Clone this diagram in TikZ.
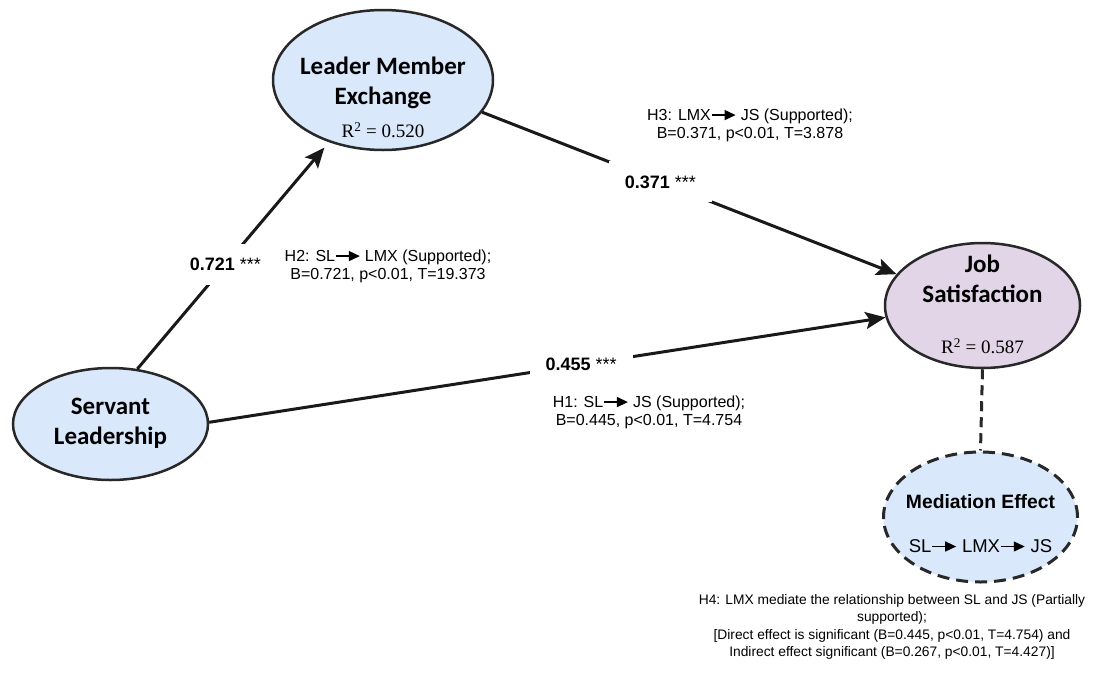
\documentclass[tikz,border=0pt]{standalone}
\usepackage{fontspec}
\setmainfont{Liberation Sans}
\newfontfamily\titlefont{Carlito}
\newfontfamily\rfont{Liberation Serif}
\usetikzlibrary{positioning, shapes.geometric, arrows.meta}
\definecolor{LatentBlue}{RGB}{218, 232, 252}
\definecolor{LatentLilac}{RGB}{225, 213, 231}
\definecolor{EdgeGray}{RGB}{40, 40, 40}
\newcommand{\hyparr}{\tikz[baseline=-0.6ex]\draw[line width=1.4pt, -{Triangle[length=11pt, width=10pt]}] (0pt,0pt) -- (24pt,0pt);}

\begin{document}
\begin{tikzpicture}[x=1pt, y=-1pt,
    latent/.style={ellipse, draw=EdgeGray, line width=2.5pt, fill=LatentBlue, inner sep=0pt},
    title/.style={font=\titlefont\bfseries\fontsize{25}{30}\selectfont, align=center},
    rsq/.style={font=\rfont\fontsize{19}{22}\selectfont},
    effect/.style={line width=3pt, draw=black!90, -{Stealth[length=20pt, width=17pt, inset=4pt]}},
    coef/.style={fill=white, inner xsep=16pt, inner ysep=14pt, font=\bfseries\fontsize{18}{20}\selectfont},
    hyp/.style={align=center, font=\fontsize{16}{18}\selectfont}
  ]
  \useasboundingbox (0,0) rectangle (1094,675);

  % latent variables
  \node[latent, minimum width=195pt, minimum height=112pt] (sl) at (110.5,424) {};
  \node[latent, minimum width=220pt, minimum height=140pt] (lmx) at (383,80) {};
  \node[latent, fill=LatentLilac, minimum width=195pt, minimum height=125pt] (js) at (982.5,305.5) {};
  \node[latent, dash pattern=on 12pt off 7pt, line width=3pt, minimum width=194pt, minimum height=130pt] (med) at (980.5,517) {};

  \node[title] (sltxt) at (110.5,423) {Servant\\Leadership};
  \node[title] (lmxtxt) at (383,83) {Leader Member\\Exchange};
  \node[rsq] (lmxr) at (383,130) {R\textsuperscript{2} = 0.520};
  \node[title] (jstxt) at (982.5,279) {Job\\Satisfaction};
  \node[rsq] (jsr) at (982.5,346) {R\textsuperscript{2} = 0.587};
  \node[font=\bfseries\fontsize{19.3}{22}\selectfont] (medtxt) at (980.5,502) {Mediation Effect};
  \node[font=\fontsize{18.5}{22}\selectfont] (medpath) at (980.5,546) {SL\hyparr\ LMX\hyparr\ JS};

  % paths
  \draw[effect, shorten >=7pt] (sl.64) -- node[coef, pos=0.46] (c721) {0.721 {\mdseries ***}} (lmx.229);
  \draw[effect] (lmx.-18) -- node[coef, pos=0.43] (c371) {0.371 {\mdseries ***}} (js.160);
  \draw[effect] (sl.1) -- node[coef, pos=0.55] (c455) {0.455 {\mdseries ***}} (js.187);
  \draw[line width=3pt, draw=EdgeGray, dash pattern=on 10pt off 6pt] (js.south) -- (med.north);

  % hypotheses
  \node[hyp] (h2) at (388,266) {H2: SL\hyparr\ LMX (Supported);\\B=0.721, p<0.01, T=19.373};
  \node[hyp] (h3) at (750,125) {H3: LMX\hyparr\ JS (Supported);\\B=0.371, p<0.01, T=3.878};
  \node[hyp] (h1) at (649,412) {H1: SL\hyparr\ JS (Supported);\\B=0.445, p<0.01, T=4.754};
  \node[hyp, font=\fontsize{13.8}{17.5}\selectfont] (h4) at (892,627) {H4: LMX mediate the relationship between SL and JS (Partially\\supported);\\{[}Direct effect is significant (B=0.445, p<0.01, T=4.754) and\\Indirect effect significant (B=0.267, p<0.01, T=4.427)]};
\end{tikzpicture}
\end{document}
